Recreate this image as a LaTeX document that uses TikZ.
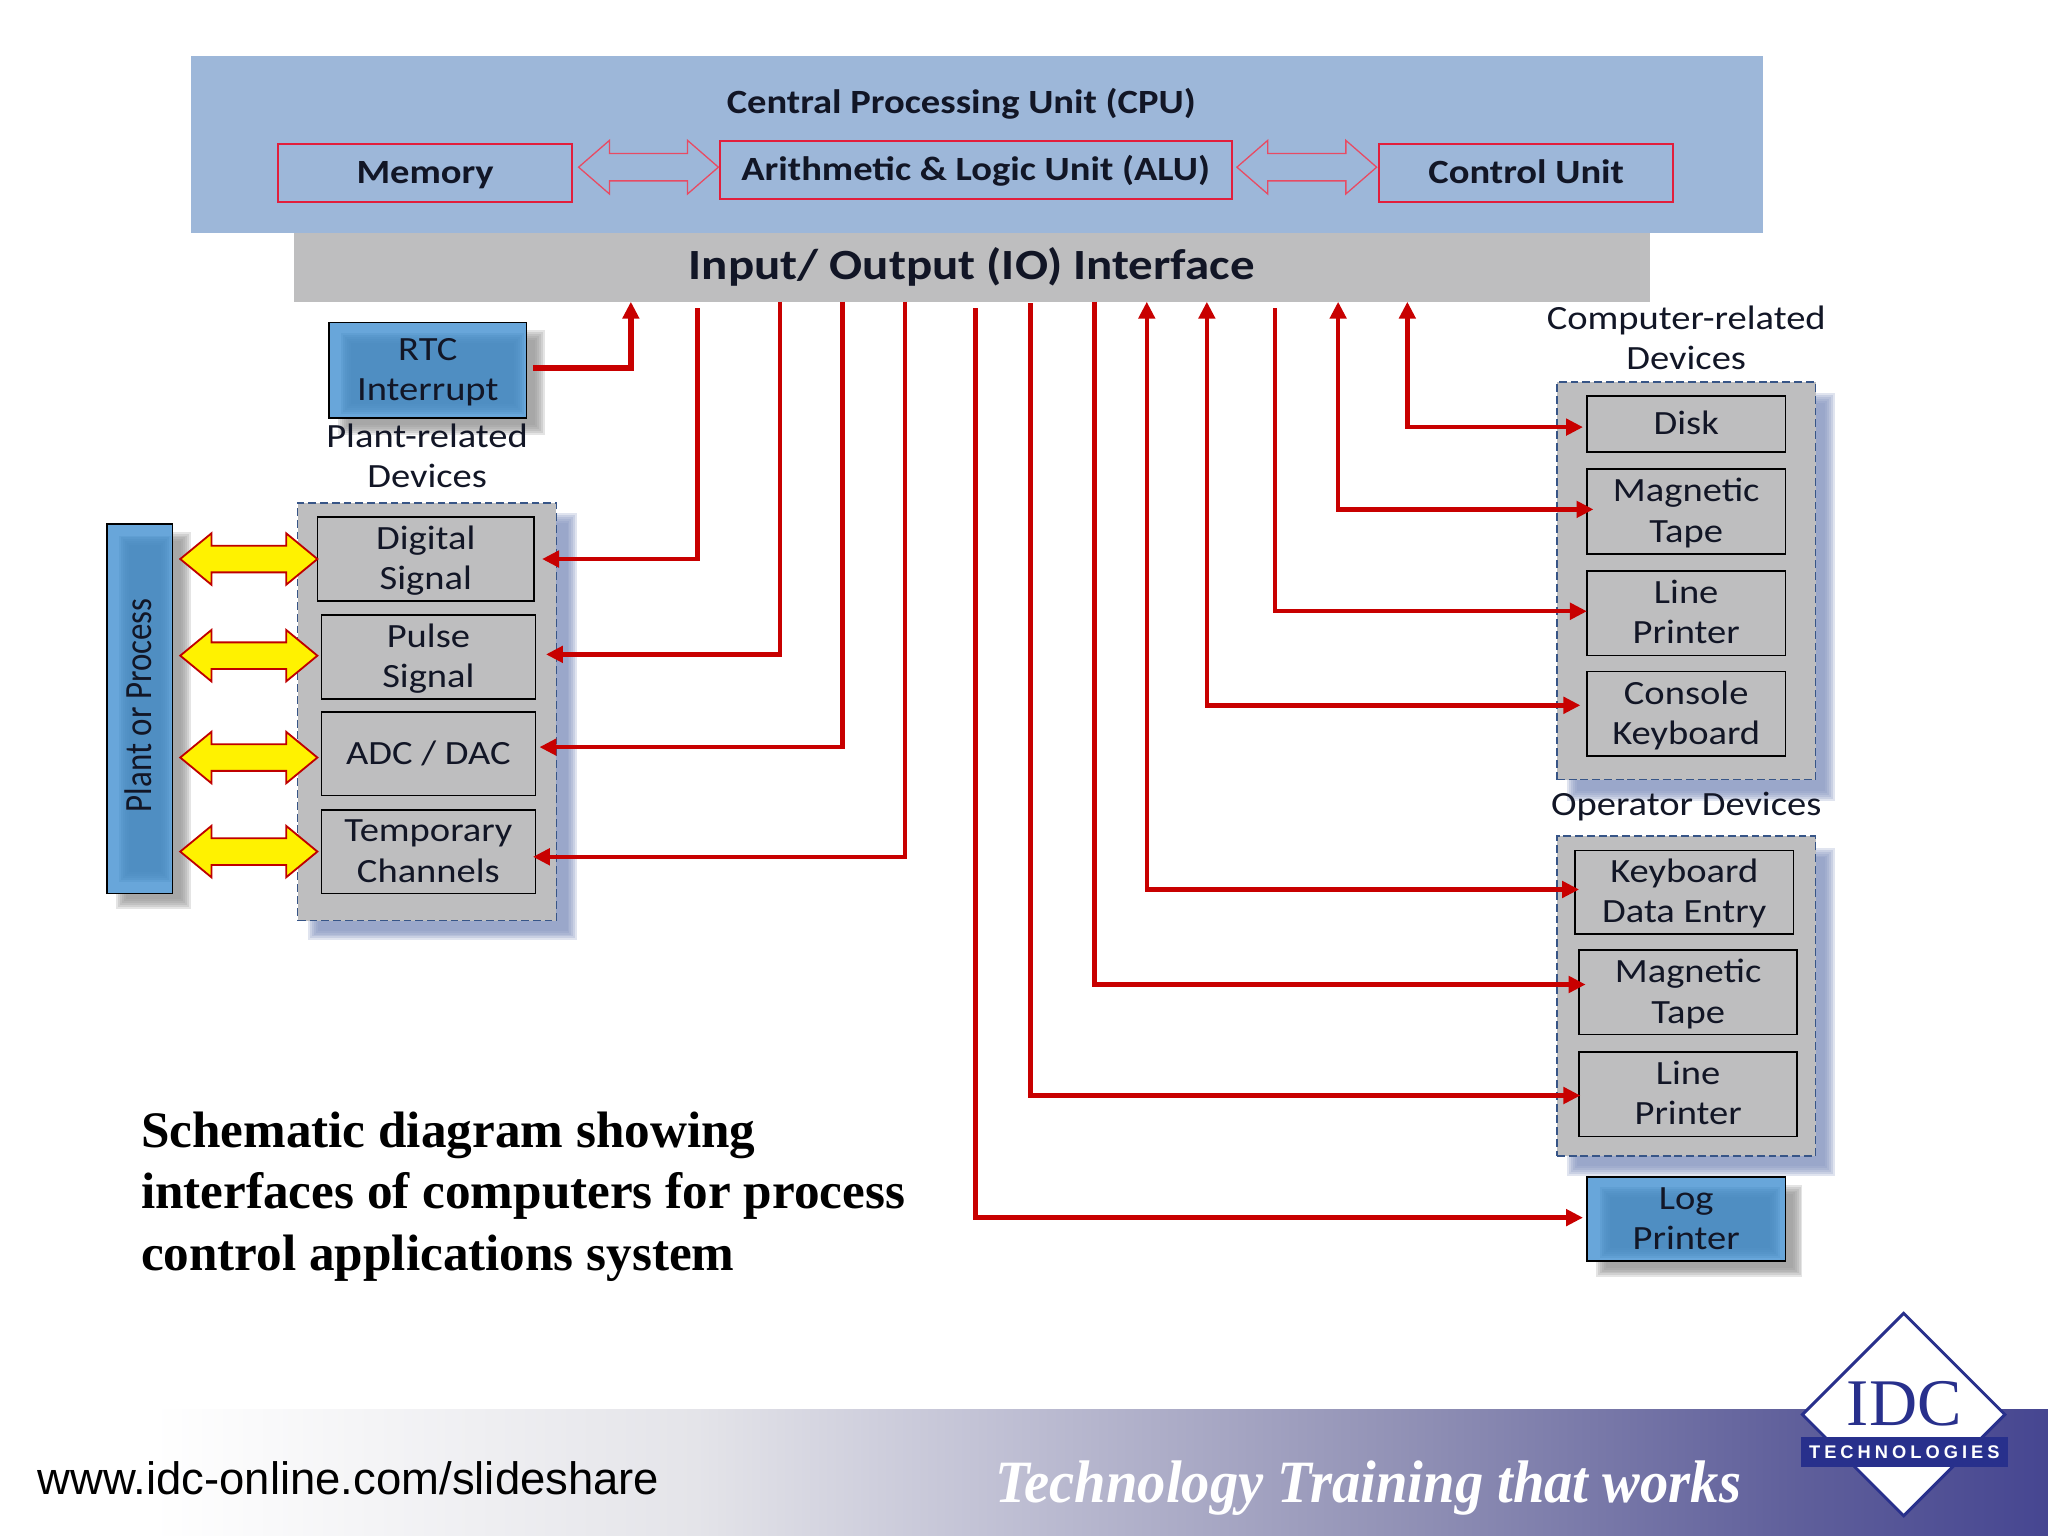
\documentclass[tikz,border=0pt]{standalone}
\usepackage{fontspec}
\setmainfont[FakeStretch=1.135]{Carlito}
\newfontfamily\serifb{Liberation Serif}
\newfontfamily\arialf{Liberation Sans}
\newfontfamily\techf[LetterSpace=22]{Liberation Sans}
\usetikzlibrary{arrows.meta,shapes.arrows,shapes.geometric,calc}
\definecolor{cpublue}{RGB}{157,183,217}
\definecolor{cpured}{RGB}{226,30,60}
\definecolor{panelgrey}{RGB}{190,190,191}
\definecolor{dashblue}{RGB}{55,85,135}
\definecolor{wire}{RGB}{200,0,0}
\definecolor{ink}{RGB}{18,22,38}
\definecolor{lightblue}{RGB}{104,166,218}
\definecolor{midblue}{RGB}{76,139,191}
\definecolor{shgrey}{RGB}{150,150,150}
\definecolor{shblue}{RGB}{135,150,192}
\definecolor{logoblue}{RGB}{40,48,140}
\definecolor{foota}{RGB}{228,228,233}
\definecolor{footb}{RGB}{192,192,212}
\definecolor{footc}{RGB}{146,146,182}
\definecolor{footd}{RGB}{95,95,155}
\definecolor{foote}{RGB}{70,70,145}
\pgfdeclarehorizontalshading{footband}{100bp}{
  color(0bp)=(white); color(28.7bp)=(white);
  color(42bp)=(foota);
  color(49.4bp)=(footb);
  color(59.1bp)=(footc);
  color(68.9bp)=(footd);
  color(75bp)=(foote);
  color(100bp)=(foote)}
\newcommand\st{\rule[-3pt]{0pt}{14pt}}
\newcommand\sn{\rule[-3pt]{0pt}{11pt}}
\tikzset{
  base/.style={inner sep=0pt,outer sep=0pt,align=center,text=ink,
    font=\fontsize{13}{15.5}\selectfont},
  title/.style={base,font=\bfseries\fontsize{13}{15.5}\selectfont},
  cpubox/.style={base,draw=cpured,line width=.75pt,fill=cpublue,
    font=\bfseries\fontsize{13}{15.5}\selectfont},
  greybox/.style={base,draw=black,line width=.6pt,fill=panelgrey},
  bluebox/.style={base,draw=black,line width=.6pt},
  panel/.style={base,draw=dashblue,line width=.5pt,fill=panelgrey,dash pattern=on 3pt off 1.5pt},
  caption/.style={base},
  hollow/.style={double arrow,draw=cpured!80!white,line width=.5pt,fill=cpublue,inner xsep=0pt,inner ysep=5pt,outer sep=0pt,
    minimum height=53.5pt,double arrow head extend=5pt,double arrow tip angle=82},
  yellowarrow/.style={double arrow,draw=red!75!black,line width=.7pt,fill=yellow,inner xsep=0pt,inner ysep=4.75pt,outer sep=0pt,
    minimum height=52.5pt,double arrow head extend=4.75pt,double arrow tip angle=79},
  conn/.style={wire,line width=1.7pt,line join=miter,
    {Triangle[length=6.5pt,width=6.2pt]}-{Triangle[length=6.5pt,width=6.2pt]}},
  connin/.style={wire,line width=1.7pt,-{Triangle[length=6.5pt,width=6.2pt]}},
}
% soft shadow: stacked translucent rectangles
\newcommand\softrect[5]{%
  \foreach \dd in {-3,-1.5,0,1.5,3,4.5}{%
    \fill[#5,opacity=.25] ({#1+\dd},{#2+\dd}) rectangle ({#3-\dd},{#4-\dd});}}
% named box from corner coordinates
\newcommand\bx[7]{%
  \pgfmathsetmacro\bxcx{(#2+#4)/2}\pgfmathsetmacro\bxcy{(#3+#5)/2}%
  \pgfmathsetmacro\bxw{(#4-#2)*.5}\pgfmathsetmacro\bxh{(#5-#3)*.5}%
  \node[#6,minimum width=\bxw pt,minimum height=\bxh pt] (#1) at (\bxcx,\bxcy) {#7};}
\begin{document}
\begin{tikzpicture}[x=.5pt,y=-.5pt]
\useasboundingbox (0,0) rectangle (1568,1176);
\fill[white] (0,0) rectangle (1568,1176);
% footer band
\fill[shading=footband] (0,1079.5) rectangle (1568,1176);
\node[base,anchor=west,font=\arialf\fontsize{17.4}{20}\selectfont,text=black] (url) at (29,1132) {www.idc-online.com/slideshare};
\node[base,text=white,anchor=west] (slogan) at (762,1139.5) {\scalebox{.942}[1]{\serifb\bfseries\itshape\fontsize{23}{26}\selectfont Technology Training that works}};
% logo
\node[diamond,aspect=1,draw=logoblue,line width=1.1pt,fill=white,minimum size=77.5pt,inner sep=0pt,outer sep=0pt] (logo) at (1457.5,1083) {};
\node[base,text=logoblue,font=\serifb\fontsize{25.5}{30}\selectfont] (idc) at (1458,1075) {IDC};
\bx{logoband}{1379}{1100}{1537}{1123}{base,fill=logoblue,text=white,font=\techf\bfseries\fontsize{7}{8}\selectfont}{TECHNOLOGIES}
% CPU
\bx{cpu}{146}{43}{1350}{178.5}{base,fill=cpublue}{}
\node[title] (cputitle) at (736,79) {\st Central Processing Unit (CPU)};
\bx{memory}{213}{110}{438}{155}{cpubox}{\st Memory}
\bx{alu}{551}{108}{943}{152.5}{cpubox}{\st Arithmetic \& Logic Unit (ALU)}
\bx{control}{1056}{110}{1281}{155}{cpubox}{\st Control Unit}
\node[hollow] (memalu) at (496.5,128) {};
\node[hollow] (aluctl) at (1000.5,128) {};
% IO
\bx{iface}{225}{178.5}{1263}{231}{base,fill=panelgrey,font=\bfseries\fontsize{16.5}{20}\selectfont}{\rule[-4pt]{0pt}{17pt}Input/ Output (IO) Interface}
% RTC
\softrect{262}{256}{414}{330}{shgrey}
\fill[lightblue] (252,247) rectangle (403,320);
\softrect{264}{258}{398}{314}{midblue}
\bx{rtc}{252}{247}{403}{320}{bluebox}{\st RTC\\\sn Interrupt}
\node[caption] (plantcap) at (327,350) {\st Plant-related\\\sn Devices};
% Plant process
\softrect{92}{410}{143}{693}{shgrey}
\fill[lightblue] (82,401) rectangle (132,684);
\softrect{94}{413}{128}{672}{midblue}
\bx{plant}{82}{401}{132}{684}{bluebox}{}
\node[base,rotate=90] (planttext) at (106,540) {\scalebox{.855}[1.135]{Plant or Process}};
% Plant-related panel
\softrect{239}{396}{439}{717}{shblue}
\bx{plantpanel}{228}{385}{426}{705}{panel}{}
\bx{digital}{243}{396}{409}{460}{greybox}{\st Digital\\\sn Signal}
\bx{pulse}{246}{471}{410}{535}{greybox}{\st Pulse\\\sn Signal}
\bx{adc}{246}{545}{410}{609}{greybox}{\st ADC / DAC}
\bx{temp}{246}{620}{410}{684}{greybox}{\st Temporary\\\sn Channels}
\node[yellowarrow] (y1) at (190.5,428) {};
\node[yellowarrow] (y2) at (190.5,502) {};
\node[yellowarrow] (y3) at (190.5,580) {};
\node[yellowarrow] (y4) at (190.5,652) {};
% Computer-related panel
\node[caption] (compcap) at (1291,259.5) {\st Computer-related\\\sn Devices};
\softrect{1203}{304}{1402}{610}{shblue}
\bx{comppanel}{1192}{292.5}{1390}{597}{panel}{}
\bx{disk}{1215}{303}{1367}{346}{greybox}{\st Disk}
\bx{tape}{1215}{359}{1367}{424}{greybox}{\st Magnetic\\\sn Tape}
\bx{line}{1215}{437}{1367}{502}{greybox}{\st Line\\\sn Printer}
\bx{console}{1215}{514}{1367}{579}{greybox}{\st Console\\\sn Keyboard}
% Operator panel
\node[caption] (opcap) at (1291,616) {\st Operator Devices};
\softrect{1203}{652}{1402}{897}{shblue}
\bx{oppanel}{1192}{640}{1390}{885}{panel}{}
\bx{kbd}{1206}{651}{1373}{715}{greybox}{\st Keyboard\\\sn Data Entry}
\bx{optape}{1209}{727.5}{1376}{792}{greybox}{\st Magnetic\\\sn Tape}
\bx{opline}{1209}{805.5}{1376}{870}{greybox}{\st Line\\\sn Printer}
% Log printer
\softrect{1225}{910}{1377}{975}{shgrey}
\fill[lightblue] (1215,901) rectangle (1367,965.5);
\softrect{1228}{912}{1360}{960}{midblue}
\bx{logp}{1215}{901}{1367}{965.5}{bluebox}{\st Log\\\sn Printer}
% caption
\node[base,anchor=north west,align=left,text=black,font=\serifb\bfseries\fontsize{19.6}{23.7}\selectfont] (schem) at (108,851) {Schematic diagram showing\\interfaces of computers for process\\control applications system};
% connectors
\draw[connin,line width=2.4pt] ([shift={(5,-1.5)}]rtc.east) -| (483,0 |- iface.south);
\draw[connin,shorten <=2.5pt] (534,0 |- iface.south) |- ([shift={(6,0)}]digital.east);
\draw[connin] (597,0 |- iface.south) |- ([shift={(8,-2)}]pulse.east);
\draw[connin] (645,0 |- iface.south) |- ([shift={(3,-5)}]adc.east);
\draw[connin] (693,0 |- iface.south) |- ([shift={(-2,4)}]temp.east);
\draw[connin,shorten <=2.5pt] (747,0 |- iface.south) |- ([shift={(-3,-1)}]logp.west);
\draw[connin,shorten <=.5pt] (789,0 |- iface.south) |- ([shift={(1,1)}]opline.west);
\draw[connin] (838,0 |- iface.south) |- ([shift={(5,-6)}]optape.west);
\draw[conn] (878,0 |- iface.south) |- ([shift={(3,-2)}]kbd.west);
\draw[conn] (924,0 |- iface.south) |- ([shift={(-5,-6.5)}]console.west);
\draw[connin,shorten <=2.5pt] (976,0 |- iface.south) |- ([shift={(0,-1.5)}]line.west);
\draw[conn] (1024.5,0 |- iface.south) |- ([shift={(5,-1.5)}]tape.west);
\draw[conn] (1077.5,0 |- iface.south) |- ([shift={(-3,2.5)}]disk.west);
\end{tikzpicture}
\end{document}
